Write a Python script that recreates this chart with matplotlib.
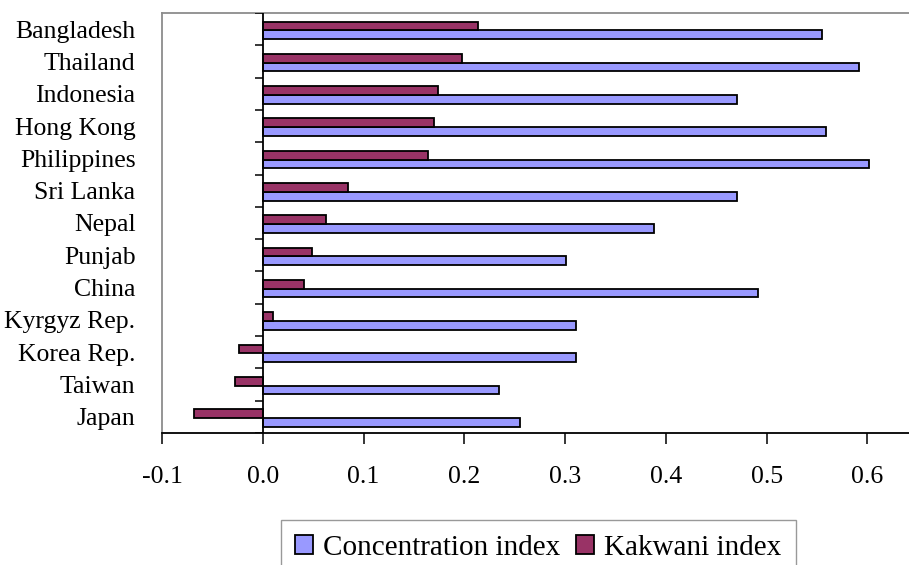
import numpy as np
import matplotlib
matplotlib.use('Agg')
import matplotlib.pyplot as plt

plt.rcParams['font.family'] = ['Liberation Serif', 'DejaVu Serif']
plt.rcParams['axes.unicode_minus'] = False

# regions, listed top to bottom
countries = ['Bangladesh', 'Thailand', 'Indonesia', 'Hong Kong', 'Philippines',
             'Sri Lanka', 'Nepal', 'Punjab', 'China', 'Kyrgyz Rep.',
             'Korea Rep.', 'Taiwan', 'Japan']
concentration = [0.555, 0.592, 0.471, 0.559, 0.602, 0.471, 0.388, 0.301,
                 0.491, 0.311, 0.311, 0.234, 0.255]
kakwani = [0.214, 0.198, 0.174, 0.170, 0.164, 0.085, 0.063, 0.049,
           0.041, 0.010, -0.024, -0.028, -0.068]
xticks = [-0.1, 0.0, 0.1, 0.2, 0.3, 0.4, 0.5, 0.6]

W, H = 909, 565
fig = plt.figure(figsize=(W / 100, H / 100), dpi=100)
ax = fig.add_axes([162 / W, 1 - 433 / H, 1 - 162 / W, (433 - 13) / H])

pos = np.arange(len(countries))
barh = 0.27

ax.barh(pos + 0.17, concentration, height=barh, color='#9999FF',
        edgecolor='black', linewidth=1.3, label='Concentration index', zorder=3)
ax.barh(pos - 0.10, kakwani, height=barh, color='#993366',
        edgecolor='black', linewidth=1.3, label='Kakwani index', zorder=3)

ax.set_ylim(len(countries) - 0.5, -0.5)
ax.set_xlim(-0.1, 0.6413)

# category axis sits at zero, with short separators between groups
ax.axvline(0, color='black', linewidth=1.3, zorder=4)
bounds = np.arange(len(countries) + 1) - 0.5
ax.hlines(bounds, -0.008, 0, color='black', linewidth=1.1, zorder=4)

ax.set_yticks(pos)
ax.set_yticklabels(countries)
ax.tick_params(axis='y', length=0, pad=19, labelsize=18.5)

ax.set_xticks(xticks)
ax.set_xticklabels(['%.1f' % t for t in xticks])
ax.tick_params(axis='x', direction='out', length=8, width=1.1, pad=16,
               labelsize=18.5, color='black')

for side in ['left', 'top']:
    ax.spines[side].set_color('#8c8c8c')
    ax.spines[side].set_linewidth(1.3)
ax.spines['right'].set_visible(False)
ax.spines['bottom'].set_color('black')
ax.spines['bottom'].set_linewidth(1.3)

leg = fig.legend(loc='upper left', bbox_to_anchor=(280.7 / W, 1 - 520 / H),
                 ncol=2, fontsize=21, frameon=True, fancybox=False,
                 borderpad=0.5, handlelength=0.6, handleheight=0.6,
                 handletextpad=0.35, columnspacing=0.55, borderaxespad=0)
leg.get_frame().set_edgecolor('#808080')
leg.get_frame().set_linewidth(1.0)

fig.savefig('out.png', dpi=100)
